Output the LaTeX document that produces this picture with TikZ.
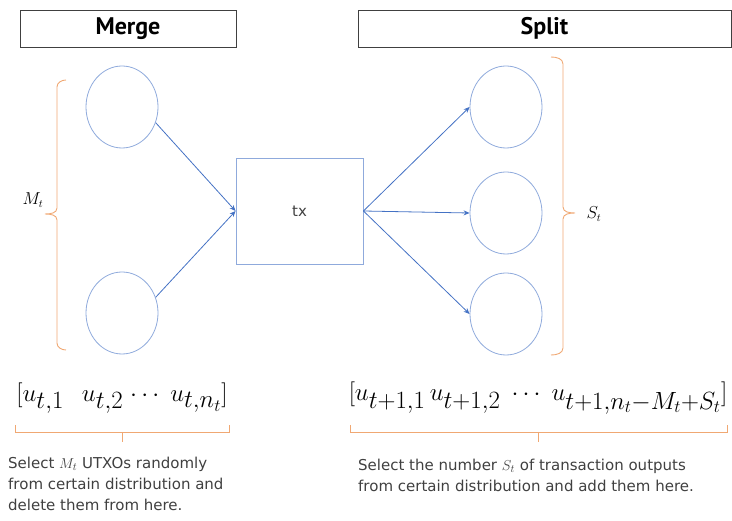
\documentclass[tikz,border=0pt]{standalone}
\usepackage[]{amsmath}
\usepackage[]{fontspec}
\usepackage[]{tikz}
\usetikzlibrary{arrows.meta}
\usetikzlibrary{shapes.geometric}
\setmainfont{DejaVu Sans}
\newfontfamily\titlefont{PT Sans}
\definecolor{circblue}{RGB}{143,170,220}
\definecolor{arrblue}{RGB}{68,114,196}
\definecolor{braceorange}{RGB}{240,168,115}
\definecolor{textgray}{RGB}{64,64,64}
\tikzset{headbox/.style = {draw=textgray, line width=0.9, minimum height=37, font=\titlefont\bfseries\fontsize{24}{28}\selectfont}}
\tikzset{utxo/.style = {draw=circblue, ellipse, line width=0.8, minimum width=72, minimum height=82}}
\tikzset{txbox/.style = {draw=circblue, line width=0.9, minimum width=127, minimum height=106, text=textgray, font=\fontsize{15}{18}\selectfont}}
\tikzset{flow/.style = {draw=arrblue, line width=0.8, -{Stealth[length=6, width=5]}}}
\tikzset{brace/.style = {draw=braceorange, line width=0.9}}
\tikzset{vec/.style = {font=\fontsize{35}{40}\selectfont}}
\tikzset{sidelabel/.style = {font=\fontsize{16}{18}\selectfont}}
\tikzset{note/.style = {text=textgray, align=left, anchor=north west, inner sep=0, font=\fontsize{15}{21}\selectfont}}

\begin{document}
\begin{tikzpicture}[x=1pt, y=1pt]
            \useasboundingbox (0,0) rectangle (732,-521);
            % headers
            \node [headbox, minimum width=216] (merge) at (128,-28.5) {Merge};
            \node [headbox, minimum width=373] (split) at (544.5,-28.5) {Split};
            % inputs, transaction, outputs
            \node [utxo] (in1) at (122,-107) {};
            \node [utxo] (in2) at (122,-313) {};
            \node [txbox] (tx) at (299.5,-211) {tx};
            \node [utxo] (out1) at (506,-107) {};
            \node [utxo] (out2) at (506,-213) {};
            \node [utxo] (out3) at (506,-314) {};
            \draw [flow] (in1.-25) -- (tx.west);
            \draw [flow] (in2.25) -- (tx.west);
            \draw [flow] (tx.east) -- (out1.west);
            \draw [flow] (tx.east) -- (out2.west);
            \draw [flow] (tx.east) -- (out3.west);
            % side braces
            \draw [brace] (66,-80) to[out=180,in=90] (57,-87) -- (57,-208) to[out=-90,in=0] (45,-214)
                to[out=0,in=90] (57,-220) -- (57,-343) to[out=-90,in=180] (66,-350);
            \node [sidelabel] (m) at (33,-200) {$M_t$};
            \draw [brace] (551,-57) to[out=0,in=90] (563,-64) -- (563,-207) to[out=-90,in=180] (575,-213)
                to[out=180,in=90] (563,-219) -- (563,-348) to[out=-90,in=0] (551,-355);
            \node [sidelabel] (s) at (594,-214) {$S_t$};
            % UTXO sets
            \node [vec] (set1) at (122,-398) {$[u_{t,1}\ \;u_{t,2}\;{\cdots}\;\,u_{t,n_t}]$};
            \node [vec] (set2) at (538,-398) {$[u_{t+1,1}\,u_{t+1,2}\;\cdots\;u_{t+1,n_t-M_t+S_t}]$};
            \draw [brace] (15,-425) -- (15,-432) -- (229,-432) -- (229,-425);
            \draw [brace] (122,-432) -- (122,-442);
            \draw [brace] (350,-425) -- (350,-432) -- (727,-432) -- (727,-425);
            \draw [brace] (538,-432) -- (538,-442);
            \node [note] (t1) at (8,-457) {Select $M_t$ UTXOs randomly\\from certain distribution and\\delete them from here.};
            \node [note] (t2) at (358,-459) {Select the number $S_t$ of transaction outputs\\from certain distribution and add them here.};
        \end{tikzpicture}
\end{document}
